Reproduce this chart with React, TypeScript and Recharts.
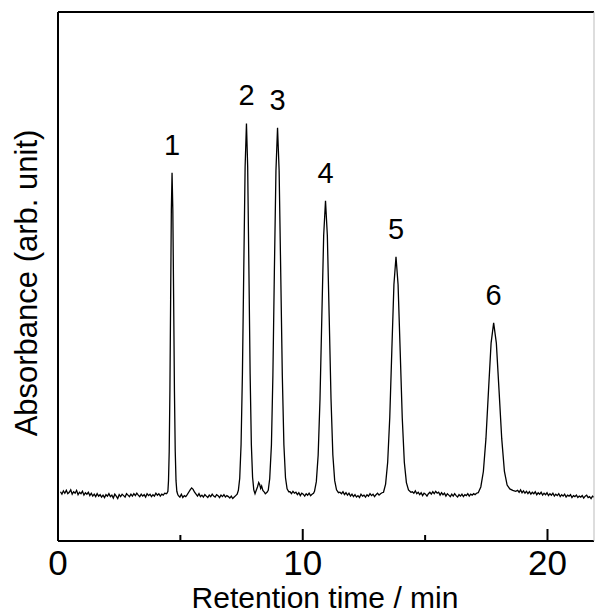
import React from 'react';
import { ComposedChart, Line, XAxis, YAxis, ReferenceDot } from 'recharts';

const FONT = '"Liberation Sans", Arial, Helvetica, sans-serif';

// baseline stretches between peaks: [start min, end min] and the noisy readings in between
const baselineARange = [0.1, 4.42];
const baselineA = [
  0.6, 0.1, 0.8, 0.3, 0.9, 0.2, 0.5, 1.0, 0.1, 0.6,
  0.3, 0.9, 0.0, 0.5, 0.2, 0.7, -0.1, 0.4, 0.1, 0.5,
  -0.2, 0.3, -0.3, 0.1, -0.4, 0.2, -0.3, 0.0, -0.5, -0.1,
  -0.6, 0.0, -0.3, 0.2, -0.4, -0.1, -0.7, 0.1, -0.3, -0.8,
  0.0, -0.4, 0.1, -0.2, -0.5, 0.2, -0.1, -0.4, 0.1, -0.3,
  0.2, -0.2, 0.3, -0.1, -0.4, 0.1, -0.3, 0.0, -0.5, 0.2,
  -0.2, 0.1, -0.4, 0.0, -0.3, 0.3, -0.1, 0.2, -0.3, 0.1,
  -0.1, 0.3, 0.2,
];
const baselineBRange = [4.92, 7.32];
const baselineB = [
  -0.2, -0.5, 0.1, -0.6, -0.2, -0.4, 0.0, 0.5, 1.0, 1.4,
  1.1, 0.5, 0.1, -0.3, 0.2, -0.4, -0.1, -0.5, 0.0, -0.3,
  -0.6, -0.1, -0.4, 0.1, -0.3, -0.5, 0.0, -0.2, -0.6, -0.1,
  -0.4, 0.0, -0.5, -0.2, -0.4, -0.7, -0.3, -0.8, -0.5, -0.2, 0.1,
];
const baselineCRange = [9.48, 10.44];
const baselineC = [0.6, 0.2, 0.7, 0.3, 0.5, 0.0, 0.4, -0.2, 0.3, 0.1, -0.3, 0.2, -0.1, 0.3, -0.2, 0.1, 0.3];
const baselineDRange = [11.52, 13.24];
const baselineD = [
  0.5, 0.2, 0.6, 0.0, 0.4, -0.1, 0.3, -0.3, 0.1, -0.4,
  0.0, -0.5, -0.2, -0.6, 0.1, -0.3, -0.1, -0.5, 0.0, -0.3,
  0.2, -0.2, 0.1, -0.4, 0.0, 0.3, -0.1, 0.2, 0.4,
];
const baselineERange = [14.48, 17.1];
const baselineE = [
  0.6, 0.3, 0.8, 0.2, 0.5, 0.0, 0.4, -0.2, 0.3, 0.1,
  -0.3, 0.2, 0.5, 0.1, 0.6, 0.2, 0.7, 0.3, 0.5, -0.1,
  0.4, 0.0, 0.3, -0.3, 0.2, -0.1, -0.4, 0.1, -0.3, 0.2,
  -0.2, -0.5, 0.0, -0.3, 0.1, -0.4, 0.0, -0.2, 0.2, -0.3,
  0.1, -0.1, 0.2, 0.0, 0.3,
];
const baselineFRange = [18.78, 21.96];
const baselineF = [
  0.9, 0.5, 1.0, 0.4, 0.8, 0.3, 0.7, 0.2, 0.6, 0.1,
  0.5, 0.2, 0.6, 0.0, 0.4, 0.1, 0.5, -0.1, 0.3, 0.0,
  0.4, -0.2, 0.2, -0.1, 0.3, -0.3, 0.1, -0.2, 0.2, -0.4,
  0.0, -0.3, 0.1, -0.5, -0.1, -0.3, 0.0, -0.6, -0.2, -0.4,
  -0.1, -0.6, -0.3, -0.5, -0.2, -0.7, -0.3, -0.1, -0.6, -0.4,
  -0.8, -0.3, -0.5, -0.2,
];

// peak profiles as [time, absorbance]
const peak1 = [
  [4.45, 0.3], [4.49, 0.7], [4.515, 2.9], [4.544, 9.0], [4.573, 21.7], [4.602, 40.5], [4.631, 58.9],
  [4.66, 66.7], [4.692, 58.9], [4.725, 40.5], [4.757, 21.7], [4.79, 9.0], [4.822, 2.9], [4.855, 0.7], [4.89, 0.1],
];
const peaks2and3 = [
  [7.37, 0.9], [7.425, 3.4], [7.48, 10.4], [7.535, 25.0], [7.59, 46.6], [7.645, 67.9], [7.7, 76.9],
  [7.75, 67.9], [7.8, 46.6], [7.85, 25.0], [7.9, 10.4], [7.95, 3.6], [8.0, 1.0], [8.05, 0.2],
  [8.1, 0.9], [8.15, 1.6], [8.2, 2.5], [8.24, 2.1], [8.28, 1.3], [8.32, 1.8], [8.37, 0.9],
  [8.42, 0.6], [8.47, 0.2], [8.54, 0.5], [8.59, 0.9], [8.65, 3.3], [8.72, 10.3], [8.78, 24.7],
  [8.84, 46.1], [8.905, 67.1], [8.97, 76.0], [9.035, 67.1], [9.1, 46.1], [9.165, 24.7], [9.23, 10.3],
  [9.295, 3.5], [9.36, 1.2], [9.43, 0.6],
];
const peak4 = [
  [10.48, 0.7], [10.555, 2.7], [10.63, 8.2], [10.705, 19.8], [10.78, 36.9], [10.855, 53.7], [10.93, 60.9],
  [11.005, 53.7], [11.08, 36.9], [11.155, 19.8], [11.23, 8.2], [11.305, 2.9], [11.38, 1.0], [11.46, 0.4],
];
const peak5 = [
  [13.3, 0.5], [13.385, 2.2], [13.47, 6.7], [13.555, 16.0], [13.64, 29.9], [13.725, 43.5], [13.81, 49.3],
  [13.895, 43.5], [13.98, 29.9], [14.065, 16.0], [14.15, 6.7], [14.235, 2.5], [14.32, 1.0], [14.42, 0.5],
];
const peak6 = [
  [17.17, 0.4], [17.275, 1.6], [17.38, 4.8], [17.485, 11.6], [17.59, 21.6], [17.695, 31.4], [17.8, 35.6],
  [17.91, 31.4], [18.02, 21.6], [18.13, 11.6], [18.24, 4.8], [18.35, 2.0], [18.46, 1.2], [18.58, 0.9], [18.7, 0.7],
];

const peakNames = ['1', '2', '3', '4', '5', '6'];
const peakTimes = [4.66, 7.7, 8.97, 10.93, 13.81, 17.8];
const peakHeights = [66.7, 76.9, 76.0, 60.9, 49.3, 35.6];

const xTicks = [0, 5, 10, 15, 20];

const spread = (range: number[], values: number[]) =>
  values.map((a, i) => ({ t: range[0] + ((range[1] - range[0]) * i) / (values.length - 1), a }));
const pairs = (list: number[][]) => list.map(([t, a]) => ({ t, a }));

const chromatogram = [
  ...spread(baselineARange, baselineA),
  ...pairs(peak1),
  ...spread(baselineBRange, baselineB),
  ...pairs(peaks2and3),
  ...spread(baselineCRange, baselineC),
  ...pairs(peak4),
  ...spread(baselineDRange, baselineD),
  ...pairs(peak5),
  ...spread(baselineERange, baselineE),
  ...pairs(peak6),
  ...spread(baselineFRange, baselineF),
];

const XTick = (props: any) => {
  const { x, y, payload } = props;
  const major = payload.value % 10 === 0;
  return (
    <g>
      <line x1={x} x2={x} y1={y} y2={y - (major ? 12 : 6)} stroke="#000" strokeWidth={2} />
      {major && (
        <text x={x} y={y + 34} textAnchor="middle" fontSize={35} fontFamily={FONT} fill="#000">
          {payload.value}
        </text>
      )}
    </g>
  );
};

const XTitle = () => (
  <text x={325} y={608} textAnchor="middle" fontSize={30} fontFamily={FONT} fill="#000">
    Retention time / min
  </text>
);

const YTitle = () => (
  <text x={37} y={283} transform="rotate(-90 37 283)" textAnchor="middle" fontSize={31} fontFamily={FONT} fill="#000">
    Absorbance (arb. unit)
  </text>
);

const App = () => (
  <div style={{ position: 'absolute', left: 0, top: 0, background: '#fff' }}>
    <ComposedChart width={595} height={615} data={chromatogram} margin={{ top: 11, right: 0, left: 57, bottom: 0 }}>
      <XAxis
        dataKey="t"
        type="number"
        domain={[0, 21.9]}
        allowDataOverflow
        ticks={xTicks}
        interval={0}
        height={74}
        tickSize={0}
        tickMargin={0}
        tickLine={false}
        tick={<XTick />}
        axisLine={{ stroke: '#000', strokeWidth: 2 }}
        label={<XTitle />}
      />
      <XAxis
        xAxisId="top"
        orientation="top"
        dataKey="t"
        type="number"
        domain={[0, 21.9]}
        allowDataOverflow
        height={1}
        tick={false}
        tickLine={false}
        axisLine={{ stroke: '#000', strokeWidth: 2 }}
      />
      <YAxis
        type="number"
        domain={[-9.6, 100]}
        allowDataOverflow
        width={1}
        tick={false}
        tickLine={false}
        axisLine={{ stroke: '#000', strokeWidth: 2 }}
        label={<YTitle />}
      />
      <YAxis
        yAxisId="right"
        orientation="right"
        type="number"
        domain={[-9.6, 100]}
        width={1}
        tick={false}
        tickLine={false}
        axisLine={{ stroke: '#bbb', strokeWidth: 1 }}
      />
      <Line
        dataKey="a"
        type="linear"
        stroke="#000"
        strokeWidth={1.3}
        dot={false}
        activeDot={false}
        isAnimationActive={false}
      />
      {peakNames.map((name, i) => (
        <ReferenceDot
          key={name}
          x={peakTimes[i]}
          y={peakHeights[i]}
          r={0}
          fill="none"
          stroke="none"
          label={{ value: name, position: 'top', offset: 18, fontSize: 29, fill: '#000', fontFamily: FONT }}
        />
      ))}
    </ComposedChart>
  </div>
);

export default App;
